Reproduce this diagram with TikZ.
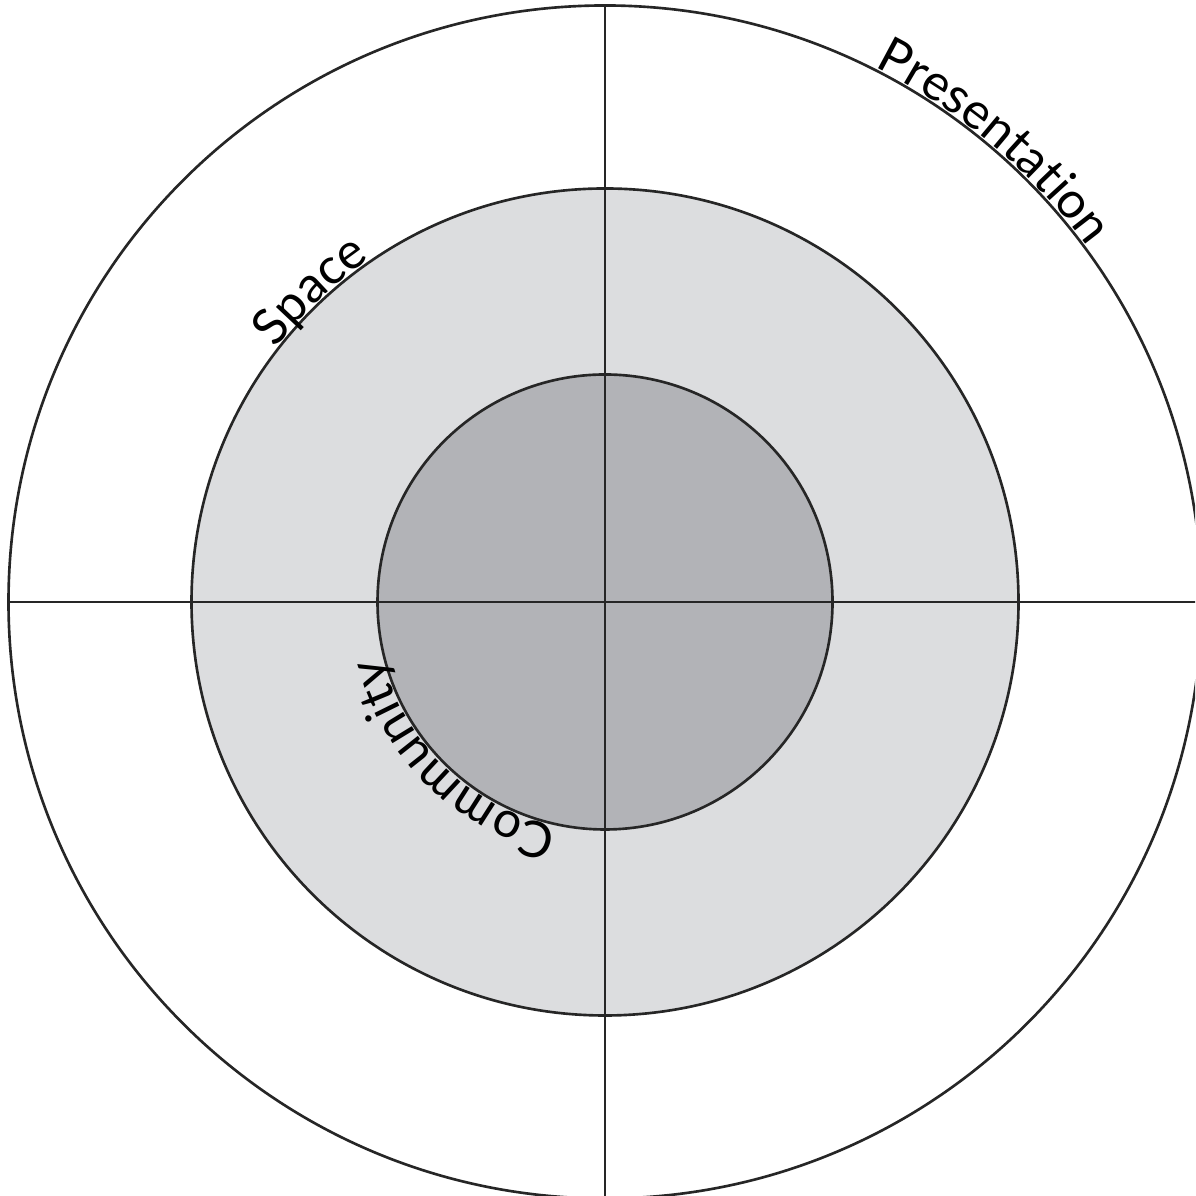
\documentclass[tikz,border=0pt]{standalone}
\usepackage{fontspec}
\setmainfont{Lato}
\usetikzlibrary{decorations.text,calc}
\definecolor{ringmid}{RGB}{220,221,223}
\definecolor{ringin}{RGB}{178,179,183}
\newcommand{\arcfont}{\fontsize{14.3}{16}\selectfont}
\begin{document}
\begin{tikzpicture}[
  ln/.style={line width=0.75pt, draw=black!85},
  arctext/.style={decorate, decoration={text along path, text align=center, raise=0.5pt}}
]
\useasboundingbox (0,0) rectangle (11.95,11.96);
\clip (0,0) rectangle (11.95,11.96);
\coordinate (c) at (6.05,5.94);
\fill[ringmid] (c) circle[radius=4.135];
\fill[ringin] (c) circle[radius=2.275];
\draw[ln] (c) circle[radius=4.135];
\draw[ln] (c) circle[radius=2.275];
\draw[ln] ($(c)+(0,5.97)$) -- ($(c)+(0,-6.2)$);
\draw[ln] ($(c)+(-5.96,0)$) -- ($(c)+(6.2,0)$);
\draw[ln] (c) circle[radius=5.965];
\path[arctext, decoration={text={|\arcfont|Presentation}}]
  ($(c)+(80:5.975)$) arc[start angle=80, end angle=19.6, radius=5.975];
\path[arctext, decoration={text={|\arcfont|Space}}]
  ($(c)+(163.4:4.14)$) arc[start angle=163.4, end angle=103.4, radius=4.14];
\path[arctext, decoration={text={|\arcfont|Community}}]
  ($(c)+(-94:2.28)$) arc[start angle=-94, end angle=-174, radius=2.28];
\end{tikzpicture}
\end{document}
